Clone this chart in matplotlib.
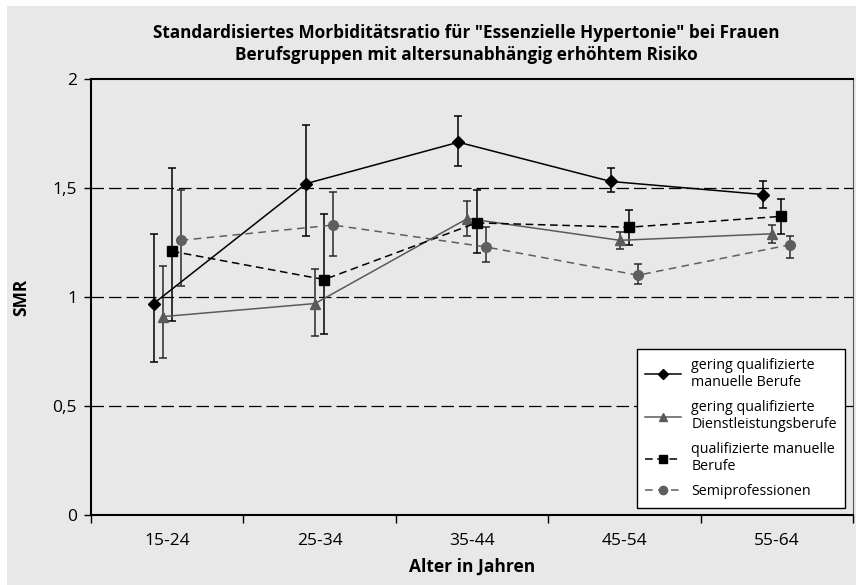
import numpy as np
import matplotlib.pyplot as plt
from matplotlib.patches import Rectangle

plt.rcParams['font.family'] = ['Open Sans', 'DejaVu Sans']

alter = ['15-24', '25-34', '35-44', '45-54', '55-64']

# gering qualifizierte manuelle Berufe
smr_gm = [0.97, 1.52, 1.71, 1.53, 1.47]
lo_gm = [0.70, 1.28, 1.60, 1.48, 1.41]
hi_gm = [1.29, 1.79, 1.83, 1.59, 1.53]

# gering qualifizierte Dienstleistungsberufe
smr_gd = [0.91, 0.97, 1.36, 1.26, 1.29]
lo_gd = [0.72, 0.82, 1.28, 1.22, 1.25]
hi_gd = [1.14, 1.13, 1.44, 1.30, 1.33]

# qualifizierte manuelle Berufe
smr_qm = [1.21, 1.08, 1.34, 1.32, 1.37]
lo_qm = [0.89, 0.83, 1.20, 1.24, 1.29]
hi_qm = [1.59, 1.38, 1.49, 1.40, 1.45]

# Semiprofessionen
smr_sp = [1.26, 1.33, 1.23, 1.10, 1.24]
lo_sp = [1.05, 1.19, 1.16, 1.06, 1.18]
hi_sp = [1.49, 1.48, 1.32, 1.15, 1.28]

namen = ['gering qualifizierte\nmanuelle Berufe',
         'gering qualifizierte\nDienstleistungsberufe',
         'qualifizierte manuelle\nBerufe',
         'Semiprofessionen']

bg = '#e7e8e7'
fig = plt.figure(figsize=(8.56, 5.85), dpi=100)
fig.patch.set_facecolor('white')
fig.patches.append(Rectangle((7/856, 0), 1, 1 - 6/585, transform=fig.transFigure,
                             facecolor=bg, edgecolor='none', zorder=-10))

ax = fig.add_axes([91/856, 70/585, 762/856, 436/585])
ax.set_facecolor(bg)

x = np.arange(len(alter))
serien = [
    (smr_gm, lo_gm, hi_gm, -0.089, 'D', 'black', '-', 6, 'black'),
    (smr_gd, lo_gd, hi_gd, -0.030, '^', '#5a5a5a', '-', 7, '#2a2a2a'),
    (smr_qm, lo_qm, hi_qm, 0.030, 's', 'black', (0, (5, 3)), 7, 'black'),
    (smr_sp, lo_sp, hi_sp, 0.089, 'o', '#5e5e5e', (0, (5, 3.5)), 7, '#2a2a2a'),
]

for (y, lo, hi, off, m, c, ls, ms, ec), name in zip(serien, namen):
    y = np.array(y)
    err = [y - np.array(lo), np.array(hi) - y]
    ax.errorbar(x + off, y, yerr=err, fmt='none', ecolor=ec, elinewidth=1.1,
                capsize=3, capthick=1.1, zorder=3)
    ax.plot(x + off, y, color=c, linestyle=ls, linewidth=1.1, marker=m,
            markersize=ms, markerfacecolor=c, markeredgecolor=c, label=name, zorder=4)

for g in [0.5, 1.0, 1.5]:
    ax.axhline(g, color='black', linestyle=(0, (10, 4)), linewidth=0.9, zorder=1)

ax.set_xlim(-0.5, 4.5)
ax.set_ylim(0, 2)
ax.set_yticks([0, 0.5, 1, 1.5, 2])
ax.set_yticklabels(['0', '0,5', '1', '1,5', '2'])
ax.set_xticks(x)
ax.set_xticklabels(alter)
ax.set_xticks(np.arange(-0.5, 5, 1), minor=True)
ax.tick_params(axis='x', which='major', length=0, pad=13, labelsize=12.5)
ax.tick_params(axis='x', which='minor', length=6, width=1, direction='out')
ax.tick_params(axis='y', length=5, width=1, direction='out', labelsize=12.5, pad=5)

for s in ['left', 'bottom', 'top']:
    ax.spines[s].set_linewidth(1.5)
    ax.spines[s].set_color('black')
ax.spines['right'].set_linewidth(0.8)
ax.spines['right'].set_color('#555555')

ax.set_ylabel('SMR', fontsize=12.5, fontweight='bold', labelpad=16)
ax.set_xlabel('Alter in Jahren', fontsize=12.5, fontweight='bold', labelpad=6)

fig.text(466/856, 1 - 33/585, 'Standardisiertes Morbiditätsratio für "Essenzielle Hypertonie" bei Frauen',
         ha='center', va='center', fontsize=12.3, fontweight='bold')
fig.text(466/856, 1 - 55/585, 'Berufsgruppen mit altersunabhängig erhöhtem Risiko',
         ha='center', va='center', fontsize=12.3, fontweight='bold')

leg = ax.legend(loc='lower right', bbox_to_anchor=(0.99, 0.016), fontsize=10.3,
                frameon=True, fancybox=False, edgecolor='black', facecolor='white',
                framealpha=1, handlelength=2.5, borderpad=0.6, labelspacing=0.7,
                handletextpad=0.7, borderaxespad=0, markerscale=0.85)
leg.get_frame().set_linewidth(1.0)

fig.savefig('out.png', dpi=100, facecolor=fig.get_facecolor())
